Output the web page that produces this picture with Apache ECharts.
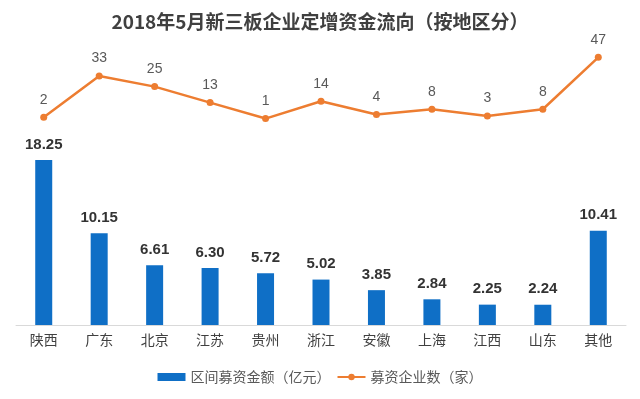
<!DOCTYPE html>
<html>
<head>
<meta charset="utf-8">
<script src="https://cdn.jsdelivr.net/npm/echarts@6/dist/echarts.min.js"></script>
<style>
  html,body{margin:0;padding:0;background:#fff;}
  #main{width:640px;height:399px;}
</style>
</head>
<body>
<div id="main"></div>
<script>
var regions = ['陕西','广东','北京','江苏','贵州','浙江','安徽','上海','江西','山东','其他'];
var amounts = [18.25,10.15,6.61,6.30,5.72,5.02,3.85,2.84,2.25,2.24,10.41];
var companies = [2,33,25,13,1,14,4,8,3,8,47];

var myChart = echarts.init(document.getElementById('main'));
option = {
  backgroundColor: '#fff',
  title: {
    text: '2018年5月新三板企业定增资金流向（按地区分）',
    left: 'center',
    top: 7,
    textStyle: {fontSize: 19, fontWeight: 'bold', color: '#404040', fontFamily: 'Noto Sans CJK SC'}
  },
  legend: {
    bottom: 10,
    left: 'center',
    itemWidth: 28,
    itemHeight: 8,
    itemGap: 6,
    textStyle: {fontSize: 14, color: '#595959', fontFamily: 'Noto Sans CJK SC'},
    data: [
      {name: '区间募资金额（亿元）', icon: 'rect'},
      {name: '募资企业数（家）'}
    ]
  },
  grid: {left: 16, right: 14, top: 40, bottom: 74},
  xAxis: {
    type: 'category',
    data: regions,
    axisLine: {lineStyle: {color: '#d9d9d9'}},
    axisTick: {show: false},
    axisLabel: {color: '#404040', fontSize: 14, margin: 8, fontFamily: 'Noto Sans CJK SC'}
  },
  yAxis: [
    {type: 'value', min: 0, max: 31.5, show: false, splitLine: {show: false}},
    {type: 'value', min: -154, max: 60, show: false, splitLine: {show: false}}
  ],
  series: [
    {
      name: '区间募资金额（亿元）',
      type: 'bar',
      data: amounts,
      barWidth: 17,
      itemStyle: {color: '#0F6FC6'},
      label: {
        show: true,
        position: 'top',
        distance: 8,
        fontSize: 15,
        fontWeight: 'bold',
        color: '#333',
        formatter: function (p) { return p.value.toFixed(2); }
      }
    },
    {
      name: '募资企业数（家）',
      type: 'line',
      yAxisIndex: 1,
      data: companies,
      symbol: 'circle',
      symbolSize: 7,
      lineStyle: {color: '#ED7D31', width: 2.5},
      itemStyle: {color: '#ED7D31'},
      label: {show: true, position: 'top', distance: 7, fontSize: 14, color: '#595959'}
    }
  ]
};
option && myChart.setOption(option);
</script>
</body>
</html>
